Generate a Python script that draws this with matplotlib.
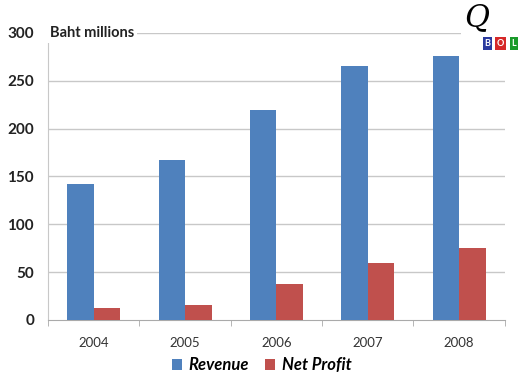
import numpy as np
import matplotlib.pyplot as plt

years = ['2004', '2005', '2006', '2007', '2008']
revenue = [142, 167, 220, 265, 276]
net_profit = [12, 16, 38, 60, 75]

blue = '#4f81bd'
red = '#c0504d'

plt.rcParams['font.family'] = ['Lato', 'DejaVu Sans']

fig = plt.figure(figsize=(5.21, 3.75), dpi=100)
ax = fig.add_axes([0.092, 0.147, 0.877, 0.765])

x = np.arange(len(years))
w = 0.29
ax.bar(x - w / 2, revenue, w, color=blue, label='Revenue', zorder=3)
ax.bar(x + w / 2, net_profit, w, color=red, label='Net Profit', zorder=3)

ax.set_xlim(-0.5, len(years) - 0.5)
ax.set_ylim(0, 300)
ax.set_yticks(range(0, 301, 50))
ax.set_yticklabels([str(v) for v in range(0, 301, 50)], fontsize=11, fontweight='bold', color='#222222')
ax.set_xticks(x)
ax.set_xticklabels(years, fontsize=9.5, color='#333333')
ax.tick_params(axis='y', length=0, pad=10)
ax.tick_params(axis='x', length=0, pad=12)
# small tick marks between categories
ax.set_xticks(np.arange(-0.5, len(years)), minor=True)
ax.tick_params(axis='x', which='minor', length=4, color='#aaaaaa')

for v in range(50, 301, 50):
    ax.axhline(v, color='#c8c8c8', lw=1, zorder=1)

for s in ['top', 'right']:
    ax.spines[s].set_visible(False)
ax.spines['left'].set_color('#c8c8c8')
ax.spines['bottom'].set_color('#aaaaaa')

ax.text(0.005, 300, 'Baht millions', fontsize=10.5, fontweight='bold', va='center', ha='left',
        transform=ax.get_yaxis_transform(), color='#222222',
        bbox=dict(facecolor='white', edgecolor='none', pad=2), zorder=5)

# logo
fig.patches.append(plt.Rectangle((0.885, 0.85), 0.115, 0.15, transform=fig.transFigure,
                                 facecolor='white', edgecolor='none', zorder=4))
fig.text(0.915, 0.952, 'Q', fontsize=22, style='italic', family='DejaVu Serif', ha='center', va='center',
         color='black', zorder=6)
for i, (ch, col) in enumerate(zip('BOL', ['#2b3a9e', '#d62828', '#1a9a2a'])):
    fig.text(0.936 + i * 0.025, 0.884, ch, fontsize=6.5, fontweight='bold', color='white', ha='center', va='center',
             bbox=dict(facecolor=col, edgecolor='none', pad=1.2), zorder=7)

ax.legend(loc='center', bbox_to_anchor=(0.468, -0.158), ncol=2, frameon=False,
          prop=dict(size=12, weight='bold', style='italic'), handlelength=0.6, handleheight=0.6,
          handletextpad=0.4, columnspacing=1.0, borderpad=0.2)

fig.savefig('out.png', dpi=100)
